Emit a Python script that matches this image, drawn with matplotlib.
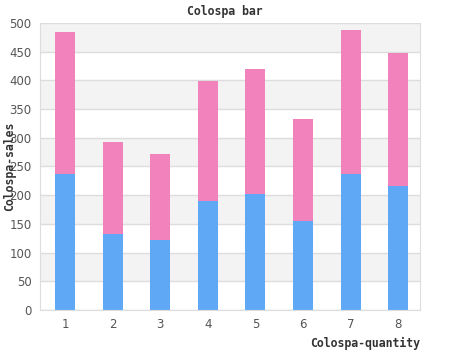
import matplotlib
matplotlib.use("Agg")
import matplotlib.pyplot as plt

# data
categories = [1, 2, 3, 4, 5, 6, 7, 8]
blue_vals = [237, 132, 122, 190, 202, 155, 237, 216]
pink_vals = [247, 161, 150, 209, 218, 178, 251, 232]
y_ticks = [0, 50, 100, 150, 200, 250, 300, 350, 400, 450, 500]


def main():
    fig = plt.figure(figsize=(4.5, 3.5), dpi=100)
    ax = fig.add_axes([40 / 450, 1 - 310 / 350, 380 / 450, 287 / 350])

    # alternating background bands
    for lo in range(50, 500, 100):
        ax.axhspan(lo, lo + 50, color="#f3f3f3", zorder=0, lw=0)
    for t in y_ticks:
        ax.axhline(t, color="#dddddd", lw=1, zorder=1)

    ax.bar(categories, blue_vals, width=0.42, color="#5fa8f5", zorder=2)
    ax.bar(categories, pink_vals, width=0.42, bottom=blue_vals,
           color="#f282bb", zorder=2)

    ax.set_xlim(0.475, 8.46)
    ax.set_ylim(0, 500)
    ax.set_xticks(categories)
    ax.set_yticks(y_ticks)
    ax.tick_params(length=0, labelsize=8.5, labelcolor="#555555", pad=6)
    for s in ax.spines.values():
        s.set_color("#dddddd")
    ax.spines["top"].set_visible(False)

    mono = {"family": "DejaVu Sans Mono", "weight": "bold", "size": 8.3,
            "color": "#333333"}
    fig.text(0.5, 1 - 12 / 350, "Colospa bar", ha="center", va="center",
             **mono)
    ax.set_ylabel("Colospa-sales", va="center", **mono)
    ax.yaxis.set_label_coords(-0.079, 0.5)
    ax.set_xlabel("Colospa-quantity", ha="right", va="center", **mono)
    ax.xaxis.set_label_coords(1.0, -0.115)

    fig.savefig("out.png", dpi=100)


if __name__ == '__main__':
    main()
